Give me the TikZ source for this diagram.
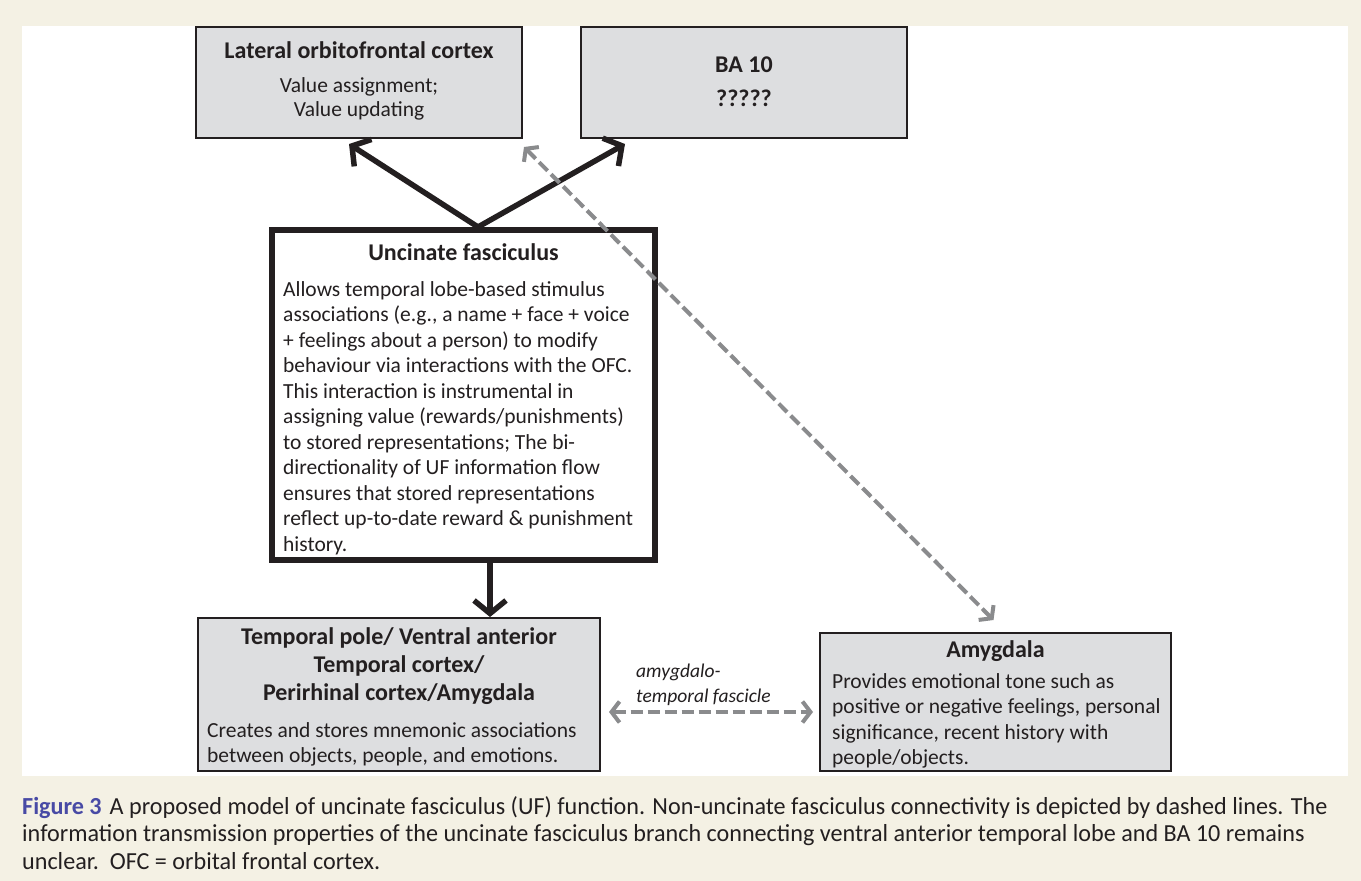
\documentclass[tikz,border=0pt]{standalone}
\usepackage{fontspec}
\setmainfont{Carlito}
\newfontfamily\capfont[FakeStretch=0.985]{Carlito}
\usetikzlibrary{arrows.meta}
\definecolor{paper}{RGB}{244,241,228}
\definecolor{boxgray}{RGB}{221,222,224}
\definecolor{dashgray}{RGB}{138,139,141}
\definecolor{figblue}{RGB}{72,74,165}
\definecolor{ink}{RGB}{35,31,32}

\begin{document}
\begin{tikzpicture}[x=1pt, y=-1pt, text=ink,
    graybox/.style={rectangle, draw=ink, line width=2pt, fill=boxgray, inner sep=0pt},
    heading/.style={font=\fontsize{24}{28}\selectfont\bfseries, inner sep=0pt, align=center},
    bodytext/.style={font=\fontsize{21.5}{25.5}\selectfont, inner sep=0pt},
    blackarrow/.style={draw=ink, line width=5.5pt, -{Straight Barb[length=13pt, width=32pt]}},
    grayarrow/.style={draw=dashgray, line width=4pt, dash pattern=on 12pt off 5pt,
        {Straight Barb[length=8pt, width=21pt]}-{Straight Barb[length=8pt, width=21pt]}}]
    % page and panel
    \fill [paper] (0,0) rectangle (1361,881);
    \fill [white] (22,26) rectangle (1348,776);
    % frontal boxes
    \node [graybox, minimum width=326pt, minimum height=111pt] (lofc) at (359,82.5) {};
    \node [heading, anchor=base] (lofctitle) at (359,58) {Lateral orbitofrontal cortex};
    \node [bodytext, align=center, anchor=north, font=\fontsize{21.5}{24}\selectfont] (lofcbody) at (359,77) {Value assignment;\\ Value updating};
    \node [graybox, minimum width=326pt, minimum height=111pt] (ba) at (744,82.5) {};
    \node [heading, anchor=base] (batitle) at (744,72) {BA 10};
    \node [heading, anchor=base] (babody) at (744,106) {?????};
    % uncinate fasciculus
    \node [rectangle, draw=ink, line width=6pt, fill=white, minimum width=383pt, minimum height=330pt] (uf) at (463.5,395) {};
    \node [heading, anchor=base] (uftitle) at (463.5,260) {Uncinate fasciculus};
    \node [bodytext, align=left, anchor=north west] (ufbody) at (283,281) {Allows temporal lobe-based stimulus\\
        associations (e.g., a name + face + voice\\
        + feelings about a person) to modify\\
        behaviour via interactions with the OFC.\\
        This interaction is instrumental in\\
        assigning value (rewards/punishments)\\
        to stored representations; The bi-\\
        directionality of UF information flow\\
        ensures that stored representations\\
        reflect up-to-date reward \& punishment\\
        history.};
    % temporal boxes
    \node [graybox, minimum width=402pt, minimum height=153pt] (tp) at (399,694.5) {};
    \node [heading, anchor=north] (tptitle) at (399,627) {Temporal pole/ Ventral anterior\\ Temporal cortex/\\ Perirhinal cortex/Amygdala};
    \node [bodytext, align=left, anchor=north west, font=\fontsize{21.5}{25.5}\selectfont] (tpbody) at (207,722) {Creates and stores mnemonic associations\\ between objects, people, and emotions.};
    \node [graybox, minimum width=351pt, minimum height=138pt] (amyg) at (995.5,702) {};
    \node [heading, anchor=base] (amygtitle) at (995.5,657) {Amygdala};
    \node [bodytext, align=left, anchor=north west] (amygbody) at (832,673) {Provides emotional tone such as\\ positive or negative feelings, personal\\ significance, recent history with\\ people/objects.};
    % connections
    \draw [blackarrow] ([xshift=14.5pt]uf.north) -- ([xshift=-10pt, yshift=-5pt]lofc.south);
    \draw [blackarrow] ([xshift=14.5pt]uf.north) -- ([xshift=45pt, yshift=-5pt]ba.south west);
    \draw [blackarrow] ([xshift=26.5pt]uf.south) -- ([xshift=26.5pt]uf.south |- tp.north);
    \draw [grayarrow] ([xshift=1pt, yshift=-8pt]lofc.south east) -- ([xshift=-2pt, yshift=12pt]amyg.north);
    \draw [grayarrow] ([xshift=8pt, yshift=-17.5pt]tp.east) -- ([xshift=-6pt, yshift=-10pt]amyg.west);
    \node [bodytext, align=left, anchor=north west, font=\fontsize{19.5}{25}\selectfont\itshape] (atf) at (636,664) {amygdalo-\\ temporal fascicle};
    % caption
    \node [anchor=north west, align=left, inner sep=0pt, font=\capfont\fontsize{24.5}{27.5}\selectfont] (caption) at (22,796)
        {{\color{figblue}\bfseries Figure 3}\hspace{8pt}A proposed model of uncinate fasciculus (UF) function. Non-uncinate fasciculus connectivity is depicted by dashed lines. The\\
        information transmission properties of the uncinate fasciculus branch connecting ventral anterior temporal lobe and BA 10 remains\\
        unclear.\ \ OFC = orbital frontal cortex.};
\end{tikzpicture}
\end{document}
